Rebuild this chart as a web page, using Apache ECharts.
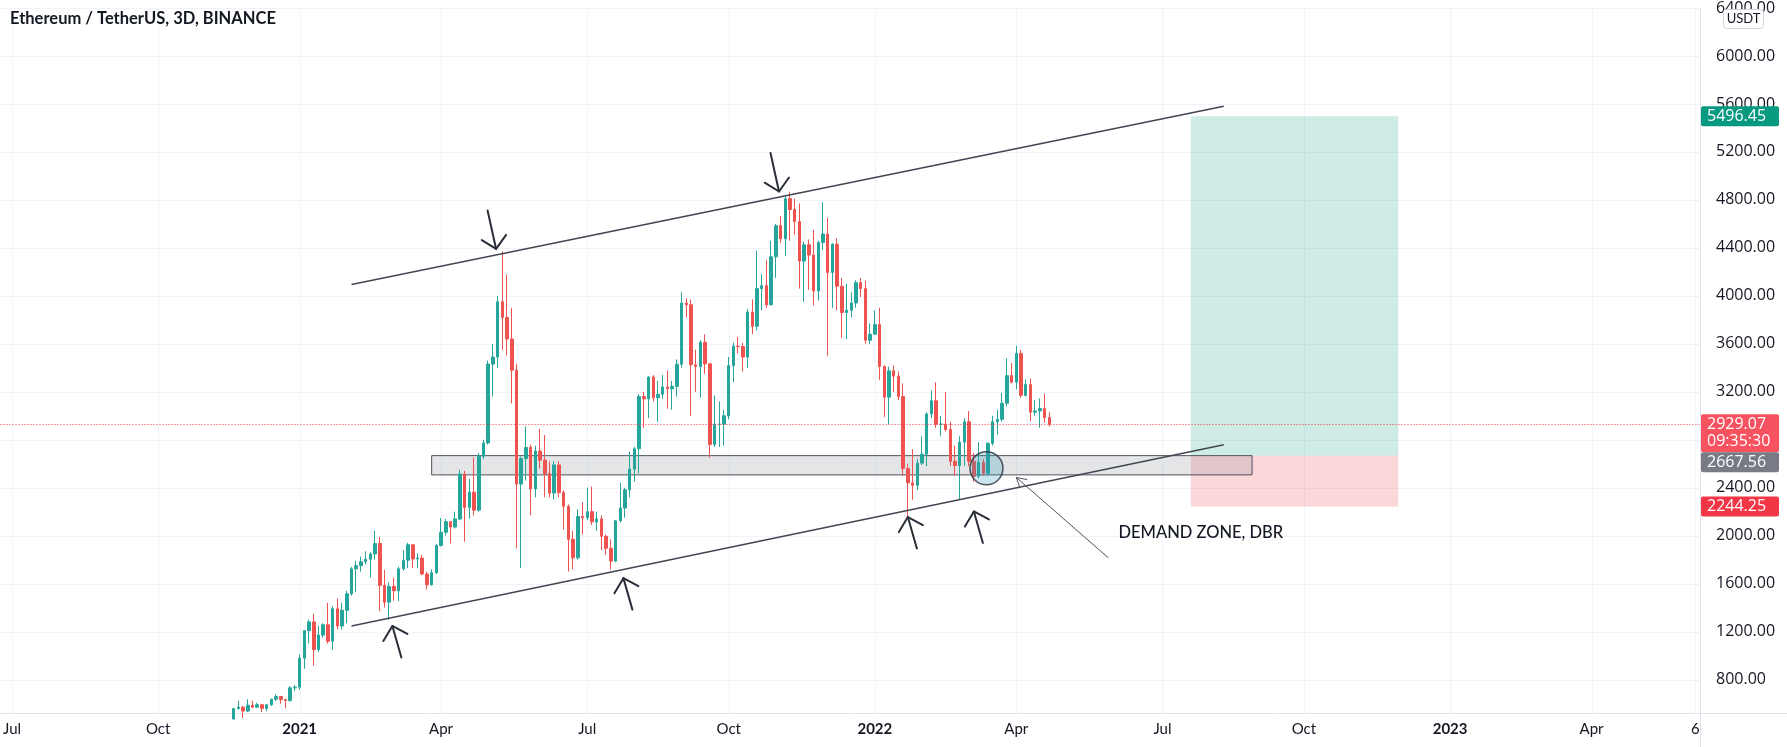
<!DOCTYPE html>
<html><head><meta charset="utf-8">
<script src="https://cdn.jsdelivr.net/npm/echarts@6/dist/echarts.min.js"></script>
<style>html,body{margin:0;padding:0;background:#fff}#c{width:1787px;height:747px}</style>
</head><body><div id="c"></div>
<script>
// ---------------- DATA ----------------
const barDates = [
'2020-11-20','2020-11-23','2020-11-26','2020-11-29','2020-12-02','2020-12-05','2020-12-08','2020-12-11','2020-12-14','2020-12-17','2020-12-20','2020-12-23','2020-12-26','2020-12-29',
'2021-01-01','2021-01-04','2021-01-07','2021-01-10','2021-01-13','2021-01-16','2021-01-19','2021-01-22','2021-01-25','2021-01-28','2021-01-31',
'2021-02-03','2021-02-06','2021-02-09','2021-02-12','2021-02-15','2021-02-18','2021-02-21','2021-02-24','2021-02-27',
'2021-03-02','2021-03-05','2021-03-08','2021-03-11','2021-03-14','2021-03-17','2021-03-20','2021-03-23','2021-03-26','2021-03-29',
'2021-04-01','2021-04-04','2021-04-07','2021-04-10','2021-04-13','2021-04-16','2021-04-19','2021-04-22','2021-04-25','2021-04-28',
'2021-05-01','2021-05-04','2021-05-07','2021-05-10','2021-05-13','2021-05-16','2021-05-19','2021-05-22','2021-05-25','2021-05-28','2021-05-31',
'2021-06-03','2021-06-06','2021-06-09','2021-06-12','2021-06-15','2021-06-18','2021-06-21','2021-06-24','2021-06-27','2021-06-30',
'2021-07-03','2021-07-06','2021-07-09','2021-07-12','2021-07-15','2021-07-18','2021-07-21','2021-07-24','2021-07-27','2021-07-30',
'2021-08-02','2021-08-05','2021-08-08','2021-08-11','2021-08-14','2021-08-17','2021-08-20','2021-08-23','2021-08-26','2021-08-29',
'2021-09-01','2021-09-04','2021-09-07','2021-09-10','2021-09-13','2021-09-16','2021-09-19','2021-09-22','2021-09-25','2021-09-28',
'2021-10-01','2021-10-04','2021-10-07','2021-10-10','2021-10-13','2021-10-16','2021-10-19','2021-10-22','2021-10-25','2021-10-28','2021-10-31',
'2021-11-03','2021-11-06','2021-11-09','2021-11-12','2021-11-15','2021-11-18','2021-11-21','2021-11-24','2021-11-27','2021-11-30',
'2021-12-03','2021-12-06','2021-12-09','2021-12-12','2021-12-15','2021-12-18','2021-12-21','2021-12-24','2021-12-27','2021-12-30',
'2022-01-01','2022-01-04','2022-01-07','2022-01-10','2022-01-13','2022-01-16','2022-01-19','2022-01-22','2022-01-25','2022-01-28','2022-01-31',
'2022-02-03','2022-02-06','2022-02-09','2022-02-12','2022-02-15','2022-02-18','2022-02-21','2022-02-24','2022-02-27',
'2022-03-02','2022-03-05','2022-03-08','2022-03-11','2022-03-14','2022-03-17','2022-03-20','2022-03-23','2022-03-26','2022-03-29',
'2022-04-01','2022-04-04','2022-04-07','2022-04-10','2022-04-13','2022-04-16','2022-04-19','2022-04-22'];

const opens = [
471,559,570,538,587,570,591,560,590,637,659,634,626,731,
737,979,1208,1281,1050,1171,1257,1120,1391,1247,1378,
1515,1724,1750,1783,1804,1848,1935,1586,1446,
1577,1541,1724,1796,1924,1806,1813,1680,1590,1691,
1918,2028,2117,2072,2139,2514,2236,2363,2213,2662,
2773,3431,3490,3950,3820,3640,3380,2430,2643,2736,2390,
2706,2630,2517,2355,2590,2360,2245,1970,1815,2160,
2150,2200,2115,2140,1995,1895,1788,2125,2230,2383,
2555,2725,3160,3141,3323,3150,3180,3240,3225,3245,
3430,3940,3926,3425,3410,3612,3433,2760,2930,2930,
3000,3418,3580,3577,3490,3865,3746,4060,4085,3925,4325,
4585,4476,4810,4720,4620,4290,4425,4340,4040,4445,
4515,4195,4430,4080,3860,3880,3940,4110,4060,3630,
3680,3760,3410,3155,3375,3330,3160,2560,2440,2420,2605,
2680,3015,3125,2930,2930,2885,2620,2585,2780,
2950,2620,2495,2610,2520,2770,2950,2970,3105,3335,
3280,3520,3170,3260,3030,3040,3060,2985];

const highs = [
560,622,580,637,623,607,595,596,640,676,665,640,745,755,
1010,1210,1300,1350,1250,1270,1440,1410,1475,1440,1540,
1740,1790,1825,1870,1860,2042,1990,1715,1610,
1650,1740,1880,1940,1930,1852,1840,1700,1720,1930,
2147,2140,2120,2200,2550,2540,2472,2650,2690,2800,
3460,3600,3998,4372,4177,3900,3434,2660,2910,2760,2750,
2890,2840,2620,2620,2620,2380,2260,2040,2220,2280,
2400,2410,2200,2170,2010,1970,2130,2440,2400,2700,
2740,3180,3200,3330,3340,3290,3340,3375,3290,3470,
4030,3980,3970,3550,3630,3680,3440,3170,3120,3050,
3490,3610,3660,3610,3890,3970,4375,4180,4300,4460,4600,
4665,4825,4868,4810,4770,4450,4470,4550,4460,4780,
4650,4440,4480,4150,4100,4030,4130,4150,4125,3770,
3880,3900,3420,3410,3420,3370,3270,2600,2720,2640,2830,
3030,3210,3280,3000,3200,2950,2750,2830,2980,
3040,2690,2780,2640,2780,3000,3050,3190,3480,3440,
3585,3550,3300,3310,3130,3145,3186,3030];

const lows = [
468,550,480,530,562,563,530,535,580,620,598,560,615,705,
715,890,1100,915,1030,1150,1100,1050,1220,1220,1270,
1500,1530,1700,1760,1650,1800,1371,1400,1300,
1460,1454,1710,1730,1729,1729,1670,1550,1585,1680,
1910,2000,1935,2060,2130,1949,2141,2169,2200,2640,
2760,3160,3400,3550,3503,3104,1893,1730,2460,2170,2320,
2560,2320,2320,2300,2320,2050,1700,1720,1800,2010,
2130,2090,2040,1880,1840,1718,1780,2110,2150,2320,
2450,2520,2900,2980,3120,2950,3140,3060,3050,3160,
3400,3820,3000,3200,3150,3350,2650,2740,2740,2750,
2970,3280,3520,3370,3400,3680,3710,3880,3900,3920,4150,
4440,4330,4460,4510,4060,3950,4050,3920,3960,4380,
3500,3900,3880,3650,3640,3820,3900,3990,3600,3600,
3680,3300,2990,2930,3200,3130,2500,2160,2300,2380,2590,
2580,2980,2900,2830,2870,2580,2500,2300,2580,
2580,2450,2480,2500,2500,2750,2840,2950,3080,3270,
3220,3150,3160,2953,3000,2900,2940,2910];

const closes = [
559,570,538,587,570,591,560,590,637,659,634,626,731,737,
979,1208,1281,1050,1171,1257,1120,1391,1247,1378,1515,
1724,1750,1783,1804,1848,1935,1586,1446,1577,
1541,1724,1796,1924,1806,1813,1680,1590,1691,1918,
2028,2117,2072,2139,2514,2236,2363,2213,2662,2773,
3431,3490,3950,3820,3640,3380,2430,2643,2736,2390,2706,
2630,2517,2355,2590,2360,2245,1970,1815,2160,2150,
2200,2115,2140,1995,1895,1788,2125,2230,2383,2555,
2725,3160,3141,3323,3150,3180,3240,3225,3245,3430,
3940,3926,3425,3410,3612,3433,2760,2930,2930,3000,
3418,3580,3577,3490,3865,3746,4060,4085,3925,4325,4585,
4476,4810,4720,4620,4290,4425,4340,4040,4445,4515,
4195,4430,4080,3860,3880,3940,4110,4060,3630,3680,
3760,3410,3155,3375,3330,3160,2560,2440,2420,2605,2680,
3015,3125,2930,2930,2885,2620,2585,2780,2950,
2620,2495,2610,2520,2770,2950,2970,3105,3335,3280,
3520,3170,3260,3030,3040,3060,2985,2929.07];

// axis tick labels
const priceTicks = [800,1200,1600,2000,2400,2800,3200,3600,4000,4400,4800,5200,5600,6000,6400];
const timeTickDates = ['2020-07-02','2020-10-03','2021-01-01','2021-04-01','2021-07-03','2021-10-01','2022-01-01','2022-04-01','2022-07-03','2022-10-01','2023-01-01','2023-04-01','2023-06-06'];
const timeTickLabels = ['Jul','Oct','2021','Apr','Jul','Oct','2022','Apr','Jul','Oct','2023','Apr','6'];

// drawings (date, price)
const upperTrend = [['2021-02-03', 4094], ['2022-08-11', 5580]];
const lowerTrend = [['2021-02-03', 1247], ['2022-08-11', 2758]];
const demandZone = [['2021-03-26', 2667.56], ['2022-08-29', 2507]];
const longSpan = ['2022-07-21', '2022-11-30'];
const longTarget = 5496.45, longEntry = 2667.56, longStop = 2244.25;
const lastPrice = 2929.07, countdown = '09:35:30';
const circleAt = ['2022-03-13', 2562];
const downArrowTips = [['2021-05-06', 4391], ['2021-11-02', 4870]];
const upArrowTips = [['2021-03-01', 1247], ['2021-07-26', 1646], ['2022-01-22', 2155], ['2022-03-05', 2202]];
const pointerTip = ['2022-04-01', 2485];
const noteAt = ['2022-06-05', 2026];
const noteText = 'DEMAND ZONE, DBR';
const titleText = 'Ethereum / TetherUS, 3D, BINANCE';

// ---------------- HELPERS ----------------
// position on the bar-index scale (3-day bars anchored at Jan 1 of each year, 122 bars per year)
function pos(s){
  const [y,m,d] = s.split('-').map(Number);
  const n = (Date.UTC(y,m-1,d) - Date.UTC(y,0,1)) / 864e5;
  return n/3 + (y-2021)*122;
}
const X_MIN = -63.44, X_MAX = 297.0, Y_MIN = 521.5, Y_MAX = 6404.3;
const FONT = 'Lato, "Open Sans", sans-serif';
const SCALE_FONT = '"Open Sans", Lato, sans-serif';
const INK = '#131722';
const DRAW = '#434651';

const candles = barDates.map((d,k)=>[pos(d), opens[k], closes[k], lows[k], highs[k]]);
const timeTicks = timeTickDates.map(pos);
const labelOf = {};
timeTicks.forEach((v,k)=>labelOf[v.toFixed(3)] = timeTickLabels[k]);

const chart = echarts.init(document.getElementById('c'), null, {renderer:'canvas'});

const arrowShapes = {
  down: {tail:[-8.5,-38.5], w1:[-14.3,-8.8], w2:[10,-14]},
  up:   {tail:[9,31.5], w1:[-9,15], w2:[15,8]},
  pointer: {tail:[91.7,80], w1:[3.5,10], w2:[10.5,2]}
};
const arrowData = [];
downArrowTips.forEach(a=>arrowData.push([pos(a[0]), a[1], 0]));
upArrowTips.forEach(a=>arrowData.push([pos(a[0]), a[1], 1]));
arrowData.push([pos(pointerTip[0]), pointerTip[1], 2]);
const kindNames = ['down','up','pointer'];

const option = {
  animation:false,
  backgroundColor:'#ffffff',
  grid:{left:0, right:87, top:0, bottom:34},
  xAxis:{
    type:'value', min:X_MIN, max:X_MAX,
    axisLine:{show:true, onZero:false, lineStyle:{color:'#e0e3eb'}},
    axisTick:{show:false},
    splitLine:{show:false},
    axisLabel:{
      customValues: timeTicks, margin:9, color:INK, fontSize:15, fontFamily:FONT,
      formatter:(v)=>{ const t = labelOf[v.toFixed(3)] || ''; return /^\d{4}$/.test(t) ? '{b|'+t+'}' : t; },
      rich:{b:{fontWeight:'bold', fontSize:15, fontFamily:FONT, color:INK}}
    }
  },
  yAxis:{
    type:'value', position:'right', min:Y_MIN, max:Y_MAX,
    axisLine:{show:true, onZero:false, lineStyle:{color:'#e0e3eb'}},
    axisTick:{show:false},
    splitLine:{show:false},
    axisLabel:{customValues: priceTicks, margin:16, color:INK, fontSize:16, fontFamily:SCALE_FONT,
      formatter:(v)=>Number(v).toFixed(2)}
  },
  series:[
    { // horizontal grid
      type:'custom', z:0, silent:true, clip:false,
      data: priceTicks.map(v=>[X_MIN, v]), encode:{x:0,y:1},
      renderItem:(p,api)=>{ const cs=p.coordSys; const y=Math.round(api.coord([api.value(0),api.value(1)])[1])+0.5;
        return {type:'line', shape:{x1:cs.x,y1:y,x2:cs.x+cs.width,y2:y}, style:{stroke:'#f0f3fa',lineWidth:1}}; }
    },
    { // vertical grid
      type:'custom', z:0, silent:true, clip:false,
      data: timeTicks.map(v=>[v, Y_MIN]), encode:{x:0,y:1},
      renderItem:(p,api)=>{ const cs=p.coordSys; const x=Math.round(api.coord([api.value(0),api.value(1)])[0])+0.5;
        return {type:'line', shape:{x1:x,y1:cs.y,x2:x,y2:cs.y+cs.height}, style:{stroke:'#f0f3fa',lineWidth:1}}; }
    },
    { // boxes (demand zone + long position)
      type:'line', z:1, silent:true, data:[],
      markArea:{ silent:true, label:{show:false},
        data:[
          [{xAxis:pos(longSpan[0]), yAxis:longTarget, itemStyle:{color:'rgba(8,153,129,0.2)'}}, {xAxis:pos(longSpan[1]), yAxis:longEntry}],
          [{xAxis:pos(longSpan[0]), yAxis:longEntry, itemStyle:{color:'rgba(242,54,69,0.2)'}}, {xAxis:pos(longSpan[1]), yAxis:longStop}],
          [{xAxis:pos(demandZone[0][0]), yAxis:demandZone[0][1], itemStyle:{color:'rgba(120,123,134,0.2)', borderColor:'#50535e', borderWidth:1}}, {xAxis:pos(demandZone[1][0]), yAxis:demandZone[1][1]}]
        ]}
    },
    {
      type:'candlestick', z:3, data:candles, encode:{x:0, y:[1,2,3,4]}, barWidth:3,
      itemStyle:{color:'#26a69a', color0:'#ef5350', borderColor:'#26a69a', borderColor0:'#ef5350', borderWidth:1},
      markLine:{ silent:true, symbol:['none','none'], label:{show:false},
        lineStyle:{type:[1,2], color:'#f23645', width:1},
        data:[{yAxis:lastPrice}] }
    },
    { type:'line', z:4, silent:true, showSymbol:false, data:upperTrend.map(a=>[pos(a[0]),a[1]]), lineStyle:{color:DRAW,width:1.5} },
    { type:'line', z:4, silent:true, showSymbol:false, data:lowerTrend.map(a=>[pos(a[0]),a[1]]), lineStyle:{color:DRAW,width:1.5} },
    { type:'scatter', z:5, silent:true, symbol:'circle', symbolSize:33,
      data:[[pos(circleAt[0]), circleAt[1]]],
      itemStyle:{color:'rgba(41,151,189,0.3)', borderColor:'#2a2e39', borderWidth:1.5} },
    { // arrows
      type:'custom', z:6, silent:true, clip:false, data:arrowData, encode:{x:0,y:1},
      renderItem:(p,api)=>{
        const t = api.coord([api.value(0), api.value(1)]);
        const kind = kindNames[api.value(2)];
        const s = arrowShapes[kind];
        const lw = kind==='pointer' ? 1 : 2;
        const col = kind==='pointer' ? '#50535e' : '#2a2e39';
        const P = o=>[t[0]+o[0], t[1]+o[1]];
        return {type:'group', children:[
          {type:'polyline', shape:{points:[P(s.tail), t]}, style:{stroke:col, lineWidth:lw, fill:null, lineCap:'round'}},
          {type:'polyline', shape:{points:[P(s.w1), t, P(s.w2)]}, style:{stroke:col, lineWidth:lw, fill:null, lineCap:'round', lineJoin:'round'}}
        ]};
      }
    },
    { // note text
      type:'custom', z:6, silent:true, clip:false, data:[[pos(noteAt[0]), noteAt[1]]], encode:{x:0,y:1},
      renderItem:(p,api)=>{ const t = api.coord([api.value(0), api.value(1)]);
        return {type:'text', x:t[0], y:t[1], style:{text:noteText, fill:INK, font:'500 16.5px '+FONT, textVerticalAlign:'middle', textAlign:'left'}}; }
    }
  ]
};
chart.setOption(option);

// price tags on the scale
const py = v => chart.convertToPixel({yAxisIndex:0}, v);
const g = [];
g.push({type:'text', left:10, top:10, style:{text:titleText, font:'bold 16.5px '+FONT, fill:INK}});
g.push({type:'rect', shape:{x:1723.5, y:9.5, width:40, height:19, r:3}, style:{fill:'#fff', stroke:'#d1d4dc', lineWidth:1}, z:50});
g.push({type:'text', x:1743.5, y:19, style:{text:'USDT', font:'13px '+FONT, fill:INK, align:'center', verticalAlign:'middle'}, z:51});
g.push({type:'line', shape:{x1:1700, y1:713.5, x2:1787, y2:713.5}, style:{stroke:'#e0e3eb', lineWidth:1}, z:50});
g.push({type:'line', shape:{x1:1700.5, y1:713, x2:1700.5, y2:747}, style:{stroke:'#e0e3eb', lineWidth:1}, z:50});
function tag(y0, h, bg, lines){
  g.push({type:'rect', shape:{x:1701, y:y0, width:78, height:h, r:2}, style:{fill:bg}, z:60});
  lines.forEach((l,k)=>g.push({type:'text', x:1707, y:y0+10+k*17, style:{text:l, font:'16px '+SCALE_FONT, fill:'#fff', verticalAlign:'middle'}, z:61}));
}
tag(py(longTarget)-10, 20, '#089981', [longTarget.toFixed(2)]);
const lp = py(lastPrice);
tag(lp-10, 38, '#f7525f', [lastPrice.toFixed(2), countdown]);
tag(Math.max(py(longEntry)-10, lp+28), 20, '#787b86', [longEntry.toFixed(2)]);
tag(py(longStop)-10, 20, '#f23645', [longStop.toFixed(2)]);
chart.setOption({graphic:g});
</script></body></html>
